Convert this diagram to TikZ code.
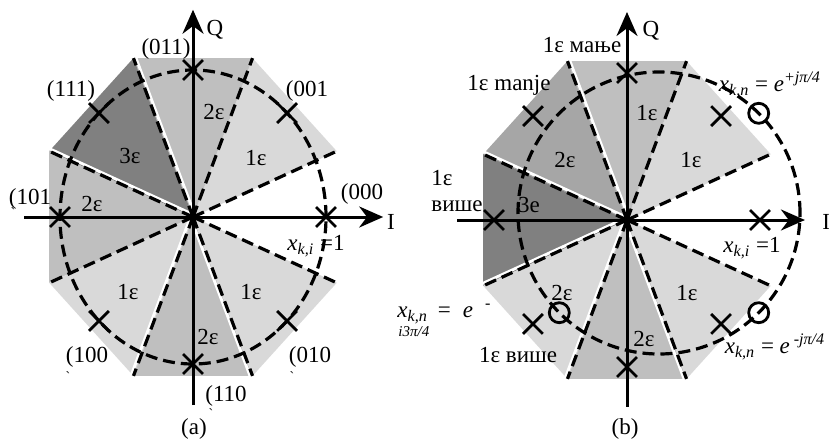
\documentclass[tikz,border=0pt]{standalone}
\usepackage{fontspec}
\setmainfont{Liberation Serif}
\usetikzlibrary{positioning,arrows.meta,shapes.misc}

\newcommand{\xki}{\textit{x}\textsubscript{\textit{k,i}}}
\newcommand{\xkn}{\textit{x}\textsubscript{\textit{k,n}}}

\begin{document}
\begin{tikzpicture}[
  x=0.5pt, y=0.5pt,
  font=\fontsize{11.5}{13}\selectfont,
  light/.style={fill=black!15},
  mid/.style={fill=black!25},
  midd/.style={fill=black!35},
  dark/.style={fill=black!50},
  gap/.style={draw=white, line width=1.4pt},
  dline/.style={draw=black, line width=1.6pt, dash pattern=on 6pt off 3pt},
  axis/.style={draw=black, line width=1.5pt, -{Stealth[length=12pt, width=10.5pt]}},
  xmk/.style={cross out, draw=black, line width=1.4pt, minimum size=8.5pt, inner sep=0pt},
  omk/.style={circle, draw=black, line width=1.4pt, minimum size=10pt, inner sep=0pt},
  lbl/.style={inner sep=0pt},
  tick/.style={inner sep=0pt, font=\scriptsize}
]
\useasboundingbox (0,0) rectangle (829,441);

% (a)
\begin{scope}[shift={(193,224)}, x=66.5pt, y=73.5pt]
  \foreach \a/\sh in {45/light, 90/mid, 135/dark, 180/mid, 225/light, 270/mid, 315/light}
    \fill[\sh] (0,0) -- ({\a-22.5}:1.17) -- ({\a+22.5}:1.17) -- cycle;
  \foreach \a in {112.5, 157.5, 247.5, 292.5}
    \draw[gap] ([shift={({\a-90}:1.2pt)}]0,0) -- ([shift={({\a-90}:1.2pt)}]\a:1.17);
  \foreach \a in {22.5, 67.5, ..., 337.5}
    \draw[dline] (0,0) -- (\a:1.17);
  \draw[dline] (0,0) ellipse[x radius=66.5pt, y radius=73.5pt];
  \coordinate (aW) at (-1.27,0);
  \coordinate (aE) at (1.43,0);
  \coordinate (aS) at (0,-1.28);
  \coordinate (aN) at (0,1.41);
  \draw[axis] (aW) -- (aE);
  \draw[axis] (aS) -- (aN);
  \foreach \a [count=\i] in {0, 45, ..., 315}
    \node[xmk] (pa\i) at (\a:1) {};
\end{scope}

\node[lbl] (qa) at (215,411) {Q};
\node[lbl] (ia) at (391,219) {I};
\node[lbl] (l011) at (166,392) {(011)};
\node[lbl] (l111) at (71,350) {(111)};
\node[lbl] (l001) at (307,350) {(001};
\node[lbl] (l101) at (30,242) {(101};
\node[lbl] (l000) at (362,247) {(000};
\node[lbl] (l100) at (87,84) {(100};
\node[lbl] (l010) at (310,84) {(010};
\node[lbl] (l110) at (226,45) {(110};
\node[tick] (t101) at (13,228) {\textasciigrave};
\node[tick] (t100) at (68,64) {\textasciigrave};
\node[tick] (t010) at (292,64) {\textasciigrave};
\node[tick] (tcap) at (211,27) {\textasciigrave};
\node[lbl] (xa) at (316,195) {\xki\ =1};
\node[lbl] (ea1) at (256,283) {1ε};
\node[lbl] (ea2) at (214,329) {2ε};
\node[lbl] (ea3) at (130,285) {3ε};
\node[lbl] (ea4) at (92,237) {2ε};
\node[lbl] (ea5) at (128,149) {1ε};
\node[lbl] (ea6) at (208,104) {2ε};
\node[lbl] (ea7) at (251,149) {1ε};
\node[lbl] (capa) at (194,12) {(a)};

% (b)
\begin{scope}[shift={(627,221)}, x=66.5pt, y=73.5pt]
  \foreach \a/\sh in {45/light, 90/mid, 135/midd, 180/dark, 225/light, 270/mid, 315/light}
    \fill[\sh] (0,0) -- ({\a-22.5}:1.17) -- ({\a+22.5}:1.17) -- cycle;
  \foreach \a in {112.5, 157.5, 202.5, 247.5, 292.5}
    \draw[gap] ([shift={({\a-90}:1.2pt)}]0,0) -- ([shift={({\a-90}:1.2pt)}]\a:1.17);
  \foreach \a in {22.5, 67.5, ..., 337.5}
    \draw[dline] (0,0) -- (\a:1.17);
  \coordinate (bc) at (0.2406,0.0476);
  \draw[dline] (bc) circle[radius=70.5pt];
  \coordinate (bW) at (-1.278,0);
  \coordinate (bE) at (1.338,0);
  \coordinate (bS) at (0,-1.272);
  \coordinate (bN) at (0,1.415);
  \draw[axis] (bW) -- (bE);
  \draw[axis] (bS) -- (bN);
  \foreach \a [count=\i] in {0, 45, ..., 315}
    \node[xmk] (pb\i) at (\a:1) {};
  \foreach \a in {45, 225, 315}
    \node[omk] (ob\a) at ([shift={(\a:70.5pt)}]bc) {};
\end{scope}

\node[lbl] (qb) at (651,410) {Q};
\node[lbl, anchor=west] (ib) at (822,219) {I};
\node[lbl] (lm1) at (582,396) {1ε мање};
\node[lbl] (lm2) at (509,356) {1ε manje};
\node[lbl, align=left, anchor=west] (lv1) at (431,250) {1ε\\више};
\node[lbl] (lv2) at (518,86) {1ε више};
\node[lbl] (eb1) at (691,281) {1ε};
\node[lbl] (eb2) at (647,328) {1ε};
\node[lbl] (eb3) at (565,281) {2ε};
\node[lbl] (eb4) at (529,236) {3e};
\node[lbl] (eb5) at (562,148) {2ε};
\node[lbl] (eb6) at (644,102) {2ε};
\node[lbl] (eb7) at (687,148) {1ε};
\node[lbl] (xp) at (770,356) {\xkn\ = \textit{e}\textsuperscript{\textit{+jπ/4}}};
\node[lbl] (xb) at (752,193) {\xki\ =1};
\node[lbl] (xm) at (775,94) {\xkn\ = \textit{e}\,\textsuperscript{\textit{-jπ/4}}};
\node[lbl, anchor=west] (xl) at (397,127) {\xkn\hspace{5pt}=\hspace{6pt}\textit{e}\hspace{6pt}\textsuperscript{-}};
\node[lbl, anchor=west, font=\fontsize{7.5}{8}\selectfont\itshape] (xl2) at (398,109) {i3π/4};
\node[lbl] (capb) at (625,12) {(b)};
\end{tikzpicture}
\end{document}
